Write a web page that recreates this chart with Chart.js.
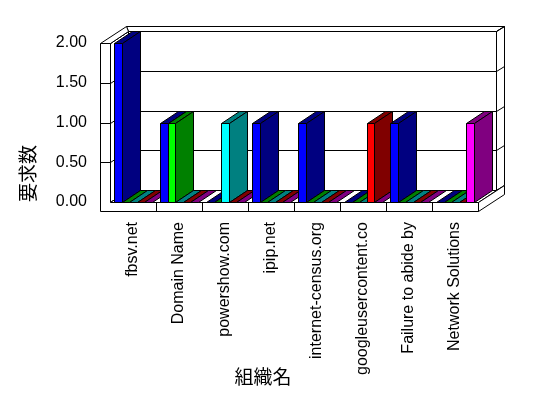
<!DOCTYPE html>
<html lang="ja">
  <head>
    <meta charset="UTF-8" />
    <title>要求数</title>
    <style>
      html, body { margin: 0; padding: 0; background: #fff; }
      #wrap { width: 548px; height: 398px; }
    </style>
  </head>
  <body>
    <div id="wrap"><canvas id="my-chart" width="548" height="398"></canvas></div>

    <script src="https://cdn.jsdelivr.net/npm/chart.js"></script>
    <script>
      // data
      const categories = [
        "fbsv.net",
        "Domain Name",
        "powershow.com",
        "ipip.net",
        "internet-census.org",
        "googleusercontent.co",
        "Failure to abide by",
        "Network Solutions",
      ];
      const seriesBlue = [2, 1, 0, 1, 1, 0, 1, 0];
      const seriesGreen = [0, 1, 0, 0, 0, 0, 0, 0];
      const seriesCyan = [0, 0, 1, 0, 0, 0, 0, 0];
      const seriesRed = [0, 0, 0, 0, 0, 1, 0, 0];
      const seriesMagenta = [0, 0, 0, 0, 0, 0, 0, 1];
      const yTicks = [0, 0.5, 1, 1.5, 2];
      const yTitle = "要求数";
      const xTitle = "組織名";

      // front / dark face colours
      const frontColors = ["#0000ff", "#00ff00", "#00ffff", "#ff0000", "#ff00ff"];
      const darkColors = ["#000080", "#008000", "#008080", "#800000", "#800080"];

      // 3d depth of bars and walls
      const DX = 18, DY = -12;
      const DX2 = 26, DY2 = -17;
      const WALL = 10, FLOOR = 9;

      function poly(ctx, pts, fill) {
        ctx.beginPath();
        ctx.moveTo(pts[0][0], pts[0][1]);
        for (let i = 1; i < pts.length; i++) ctx.lineTo(pts[i][0], pts[i][1]);
        ctx.closePath();
        if (fill) {
          ctx.fillStyle = fill;
          ctx.fill();
        }
        ctx.stroke();
      }

      function line(ctx, pts) {
        ctx.beginPath();
        ctx.moveTo(pts[0][0], pts[0][1]);
        for (let i = 1; i < pts.length; i++) ctx.lineTo(pts[i][0], pts[i][1]);
        ctx.stroke();
      }

      const box3d = {
        id: "box3d",
        beforeDatasetsDraw(chart) {
          const ctx = chart.ctx;
          const L = Math.round(chart.chartArea.left);
          const R = Math.round(chart.chartArea.right);
          const T = Math.round(chart.chartArea.top);
          const B = Math.round(chart.chartArea.bottom);
          const ys = chart.scales.y;
          const xs = chart.scales.x;

          ctx.save();
          ctx.translate(0.5, 0.5);
          ctx.strokeStyle = "#000";
          ctx.lineWidth = 1;

          // back wall: top, right side, face
          poly(ctx, [[L - WALL + DX2, T + DY2], [R + DX2, T + DY2], [R + DX, T + DY], [L + DX, T + DY]], "#fff");
          poly(ctx, [[R + DX, T + DY], [R + DX2, T + DY2], [R + DX2, B + DY2], [R + DX, B + DY]], "#fff");
          poly(ctx, [[L + DX, T + DY], [R + DX, T + DY], [R + DX, B + DY], [L + DX, B + DY]], "#fff");
          yTicks.forEach((v) => {
            const yy = Math.round(ys.getPixelForValue(v));
            line(ctx, [[L + DX, yy + DY], [R + DX, yy + DY], [R + DX2, yy + DY2]]);
          });

          // left wall inner face and top
          poly(ctx, [[L, T], [L + DX, T + DY], [L + DX, B + DY], [L, B]], "#fff");
          yTicks.forEach((v) => {
            const yy = Math.round(ys.getPixelForValue(v));
            line(ctx, [[L, yy], [L + DX, yy + DY]]);
          });
          poly(ctx, [[L - WALL, T], [L, T], [L + DX, T + DY], [L - WALL + DX2, T + DY2]], "#fff");

          // floor top, right side, front (with left wall front)
          poly(ctx, [[L, B], [R, B], [R + DX, B + DY], [L + DX, B + DY]], "#fff");
          poly(ctx, [[R, B], [R, B + FLOOR], [R + DX2, B + FLOOR + DY2], [R + DX2, B + DY2]], "#fff");
          poly(ctx, [[L - WALL, T], [L, T], [L, B], [R, B], [R, B + FLOOR], [L - WALL, B + FLOOR]], "#fff");

          // ticks on the wall front
          yTicks.slice(1, -1).forEach((v) => {
            const yy = Math.round(ys.getPixelForValue(v));
            line(ctx, [[L - WALL, yy], [L, yy]]);
          });
          // category dividers on the floor front
          for (let j = 1; j < categories.length; j++) {
            const xx = Math.round((xs.getPixelForTick(j - 1) + xs.getPixelForTick(j)) / 2);
            line(ctx, [[xx, B], [xx, B + FLOOR]]);
          }

          // bars, left to right
          const n = chart.data.datasets.length;
          for (let j = 0; j < categories.length; j++) {
            for (let i = 0; i < n; i++) {
              const el = chart.getDatasetMeta(i).data[j];
              const x0 = Math.round(el.x - el.width / 2);
              const x1 = Math.round(el.x + el.width / 2);
              const yt = Math.round(el.y);
              const yb = Math.round(el.base);
              const dark = darkColors[i];
              poly(ctx, [[x0, yt], [x1, yt], [x1 + DX, yt + DY], [x0 + DX, yt + DY]], dark);
              if (yb > yt) {
                poly(ctx, [[x1, yt], [x1 + DX, yt + DY], [x1 + DX, yb + DY], [x1, yb]], dark);
                poly(ctx, [[x0, yt], [x1, yt], [x1, yb], [x0, yb]], frontColors[i]);
              }
            }
          }
          ctx.restore();
          return false;
        },
        afterDraw(chart) {
          const ctx = chart.ctx;
          ctx.save();
          ctx.fillStyle = "#000";
          ctx.font = "19px 'Noto Sans CJK JP'";
          ctx.textAlign = "center";
          ctx.textBaseline = "middle";
          ctx.fillText(xTitle, chart.chartArea.left + 153, 377);
          ctx.restore();
        },
      };

      Chart.defaults.font.family = "'Liberation Sans', Arial, sans-serif";
      Chart.defaults.font.size = 16;
      Chart.defaults.color = "#000";

      const chartEle = document.getElementById("my-chart").getContext("2d");

      const chartConfig = {
        type: "bar",
        data: {
          labels: categories,
          datasets: [seriesBlue, seriesGreen, seriesCyan, seriesRed, seriesMagenta].map((d, i) => ({
            label: "s" + i,
            data: d,
            backgroundColor: frontColors[i],
            borderWidth: 0,
            categoryPercentage: 0.82,
            barPercentage: 1,
          })),
        },
        options: {
          responsive: false,
          animation: false,
          layout: { padding: { top: 43, right: 70, left: 0, bottom: 0 } },
          plugins: {
            legend: { display: false },
            tooltip: { enabled: false },
          },
          scales: {
            x: {
              grid: { display: false, drawTicks: false },
              border: { display: false },
              ticks: {
                autoSkip: false,
                minRotation: 90,
                maxRotation: 90,
                padding: 20,
                font: { size: 16 },
              },
              afterFit(scale) {
                scale.height = 196;
              },
            },
            y: {
              min: 0,
              max: 2,
              grid: { display: false, drawTicks: false },
              border: { display: false },
              afterBuildTicks(scale) {
                scale.ticks = yTicks.map((v) => ({ value: v }));
              },
              ticks: {
                padding: 23,
                font: { size: 16 },
                callback: (v) => Number(v).toFixed(2),
              },
              title: {
                display: true,
                text: yTitle,
                align: "start",
                padding: { top: 16, bottom: 0 },
                font: { size: 19, family: "'Noto Sans CJK JP'" },
              },
              afterFit(scale) {
                scale.width = 110;
              },
            },
          },
        },
        plugins: [box3d],
      };

      const chart = new Chart(chartEle, chartConfig);
    </script>
  </body>
</html>
